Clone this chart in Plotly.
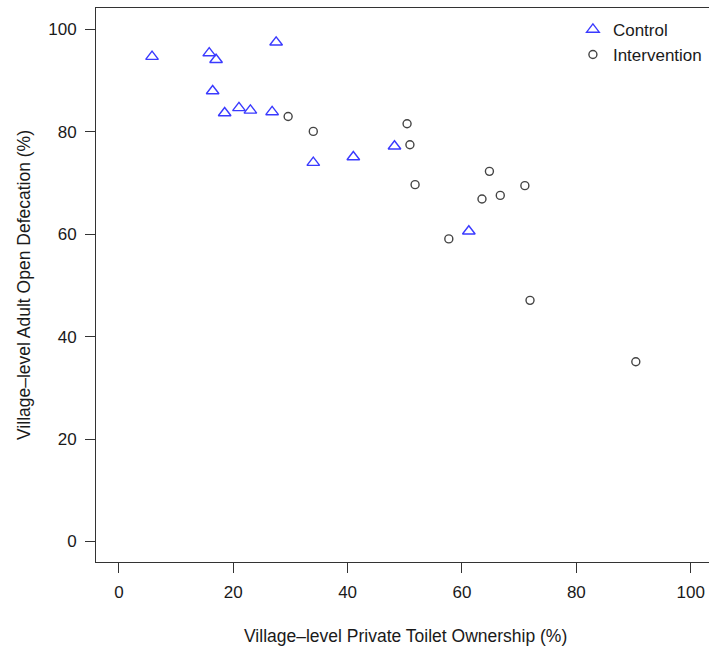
import plotly.graph_objects as go

# Control villages (x: private toilet ownership %, y: adult open defecation %)
control_x = [5.8, 15.8, 17.0, 16.4, 18.5, 21.0, 23.0, 26.8, 27.5, 34.0, 41.0, 48.2, 61.2]
control_y = [94.7, 95.4, 94.1, 88.0, 83.7, 84.7, 84.2, 83.9, 97.5, 74.0, 75.1, 77.2, 60.6]

# Intervention villages
interv_x = [29.6, 34.0, 50.4, 50.9, 51.8, 64.8, 63.5, 66.7, 71.0, 57.7, 71.9, 90.4]
interv_y = [83.0, 80.1, 81.6, 77.5, 69.7, 72.3, 66.9, 67.6, 69.5, 59.1, 47.1, 35.1]

tick_vals = [0, 20, 40, 60, 80, 100]
tick_text = ["0", "20", "40", "60", "80", "100"]

FONT = "Liberation Sans, Arial, Helvetica, sans-serif"
AXC = "#333333"
TXT = "#1a1a1a"

fig = go.Figure()
fig.add_trace(go.Scatter(
    x=control_x, y=control_y, mode="markers", name="Control",
    marker=dict(symbol="triangle-up-open", size=11, color="#3a3aff",
                line=dict(width=1.4, color="#3a3aff")),
))
fig.add_trace(go.Scatter(
    x=interv_x, y=interv_y, mode="markers", name="Intervention",
    marker=dict(symbol="circle-open", size=8, color="#444444",
                line=dict(width=1.4, color="#444444")),
))

axis_common = dict(
    showgrid=False, zeroline=False, showline=True, linecolor=AXC, linewidth=1,
    ticks="outside", ticklen=10, tickwidth=1, tickcolor=AXC,
    tickvals=tick_vals, ticktext=tick_text,
    tickfont=dict(family=FONT, size=17, color=TXT),
)

fig.update_layout(
    width=709, height=649,
    margin=dict(l=96, r=0, t=8, b=87),
    paper_bgcolor="white", plot_bgcolor="white",
    showlegend=True,
    legend=dict(x=0.778, y=0.993, xanchor="left", yanchor="top",
                bgcolor="rgba(0,0,0,0)", borderwidth=0,
                font=dict(family=FONT, size=17, color=TXT),
                itemsizing="trace"),
    xaxis=dict(range=[-4, 103.2], mirror=True, ticklabelstandoff=5, **axis_common),
    yaxis=dict(range=[-4, 104.2], ticklabelstandoff=5, **axis_common),
    annotations=[
        dict(text="Village\u2013level Private Toilet Ownership (%)", xref="paper", yref="paper",
             x=(405 - 96) / 613, y=(562 - 636) / 554, xanchor="center", yanchor="middle",
             showarrow=False, font=dict(family=FONT, size=17.5, color=TXT)),
        dict(text="Village\u2013level Adult Open Defecation (%)", xref="paper", yref="paper",
             x=(24 - 96) / 613, y=0.5, xanchor="center", yanchor="middle", textangle=-90,
             showarrow=False, font=dict(family=FONT, size=17.5, color=TXT)),
    ],
)

fig.write_html("out.html")
